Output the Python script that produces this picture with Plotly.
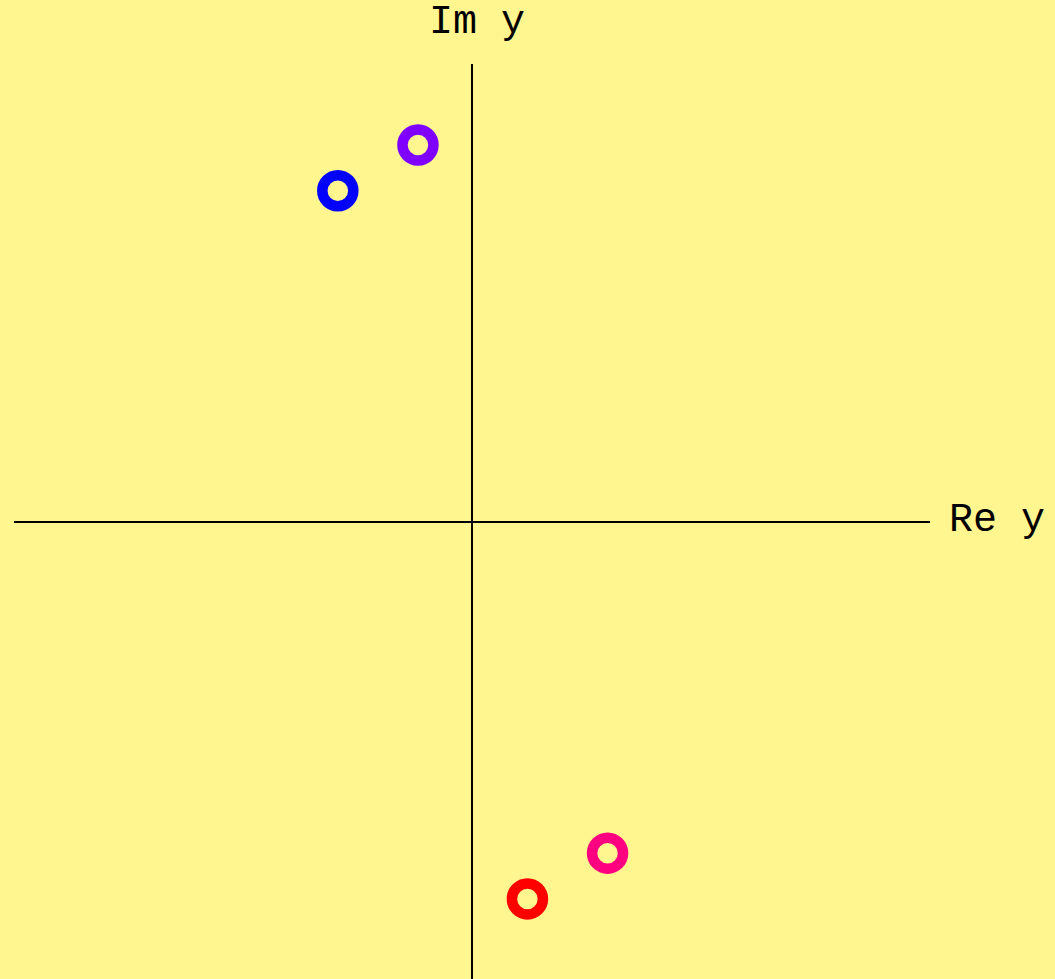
import plotly.graph_objects as go

# Complex values plotted on the Argand plane (real part, imaginary part)
names = ["y1", "y2", "y3", "y4"]
re_vals = [-0.293, -0.118, 0.296, 0.121]
im_vals = [0.723, 0.823, -0.725, -0.825]
colors = ["#0000FF", "#7F00FF", "#FF0080", "#FF0000"]

BG = "#FFF68F"
FONT = "Liberation Mono, Courier New, monospace"

fig = go.Figure()
for n, x, y, c in zip(names, re_vals, im_vals, colors):
    fig.add_trace(go.Scatter(
        x=[x], y=[y], mode="markers", name=n,
        marker=dict(symbol="circle-open", size=31, color=c,
                    line=dict(width=10.5, color=c)),
        hoverinfo="skip",
    ))

axis_common = dict(showgrid=False, showticklabels=False, ticks="",
                   zeroline=True, zerolinecolor="black", zerolinewidth=2,
                   showline=False, fixedrange=True)

fig.update_layout(
    width=1055, height=979,
    margin=dict(l=14, r=125, t=64, b=0),
    paper_bgcolor=BG, plot_bgcolor=BG,
    showlegend=False,
    xaxis=dict(range=[-1, 1], **axis_common),
    yaxis=dict(range=[-1, 1], **axis_common),
    annotations=[
        dict(text="Re y", xref="paper", yref="y", x=1, y=0,
             xanchor="left", yanchor="middle", xshift=17, yshift=1,
             showarrow=False,
             font=dict(family=FONT, size=40, color="black")),
        dict(text="Im y", xref="x", yref="paper", x=0, y=1,
             xanchor="center", yanchor="bottom", xshift=5, yshift=17,
             showarrow=False,
             font=dict(family=FONT, size=40, color="black")),
    ],
)

fig.write_html("out.html")
